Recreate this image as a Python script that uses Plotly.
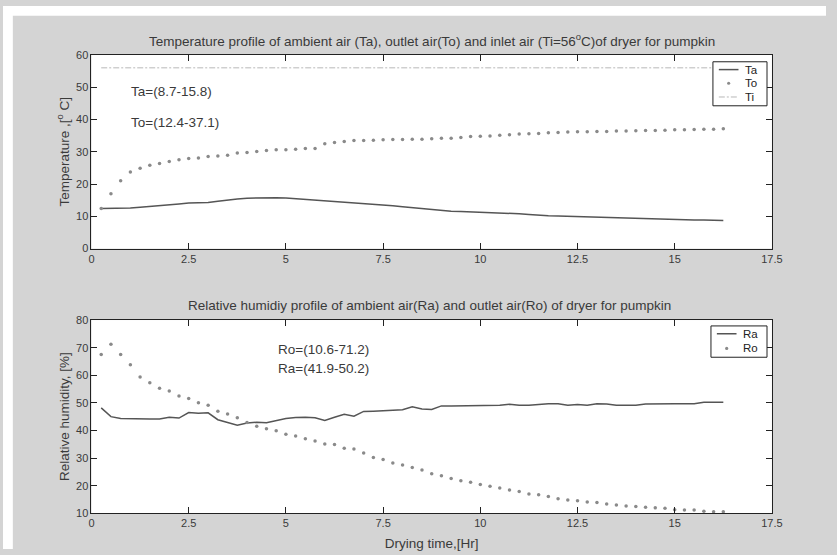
import plotly.graph_objects as go

# Drying time (hours), readings every 15 minutes
time_hr = [0.25, 0.5, 0.75, 1.0, 1.25, 1.5, 1.75, 2.0, 2.25, 2.5, 2.75, 3.0, 3.25,
           3.5, 3.75, 4.0, 4.25, 4.5, 4.75, 5.0, 5.25, 5.5, 5.75, 6.0, 6.25, 6.5,
           6.75, 7.0, 7.25, 7.5, 7.75, 8.0, 8.25, 8.5, 8.75, 9.0, 9.25, 9.5, 9.75,
           10.0, 10.25, 10.5, 10.75, 11.0, 11.25, 11.5, 11.75, 12.0, 12.25, 12.5,
           12.75, 13.0, 13.25, 13.5, 13.75, 14.0, 14.25, 14.5, 14.75, 15.0, 15.25,
           15.5, 15.75, 16.0, 16.25]

# Ambient air temperature Ta (deg C)
ta = [12.4, 12.4, 12.5, 12.6, 12.8, 13.0, 13.3, 13.6, 13.8, 14.1, 14.2, 14.3, 14.7,
      15.1, 15.4, 15.6, 15.7, 15.8, 15.8, 15.7, 15.5, 15.3, 15.1, 14.9, 14.7, 14.4,
      14.2, 14.0, 13.8, 13.6, 13.3, 13.0, 12.7, 12.4, 12.2, 11.9, 11.6, 11.5, 11.4,
      11.3, 11.2, 11.2, 11.0, 10.8, 10.6, 10.3, 10.2, 10.1, 10.0, 9.9,
      9.8, 9.7, 9.6, 9.6, 9.5, 9.4, 9.3, 9.2, 9.1, 9.0, 9.0,
      8.9, 8.9, 8.8, 8.7]

# Outlet air temperature To (deg C)
to = [12.4, 17.0, 21.0, 23.7, 24.9, 25.8, 26.4, 27.0, 27.5, 27.9, 28.1, 28.5, 28.7,
      28.9, 29.6, 29.8, 30.1, 30.4, 30.6, 30.6, 30.8, 31.0, 31.0, 32.5, 32.9, 33.2,
      33.5, 33.5, 33.6, 33.7, 33.8, 33.8, 33.9, 33.9, 34.0, 34.2, 34.2, 34.4, 34.7,
      34.8, 34.9, 35.1, 35.3, 35.5, 35.6, 35.7, 35.9, 36.0, 36.1, 36.2,
      36.2, 36.3, 36.3, 36.4, 36.4, 36.5, 36.6, 36.6, 36.7, 36.8, 36.8,
      36.9, 37.0, 37.0, 37.1]

# Inlet air temperature Ti (deg C), held constant
ti_time = [0.25, 16.25]
ti = [56.0, 56.0]

# Ambient air relative humidity Ra (%)
ra = [48.2, 45.0, 44.3, 44.2, 44.2, 44.2, 44.2, 44.8, 44.5, 46.5, 46.2, 46.4, 43.9,
      42.8, 41.9, 42.7, 43.0, 42.8, 43.5, 44.3, 44.7, 44.8, 44.6, 43.6, 44.8, 45.9,
      45.2, 46.9, 47.0, 47.1, 47.3, 47.5, 48.6, 47.8, 47.6, 48.9, 48.9, 48.9, 49.0,
      49.0, 49.1, 49.1, 49.5, 49.1, 49.1, 49.5, 49.7, 49.7, 49.1, 49.4,
      49.1, 49.7, 49.6, 49.1, 49.1, 49.1, 49.6, 49.7, 49.7, 49.7, 49.7,
      49.7, 50.2, 50.2, 50.2]

# Outlet air relative humidity Ro (%)
ro = [67.5, 71.2, 67.5, 63.8, 59.4, 57.3, 55.3, 54.3, 52.5, 51.6, 50.0, 49.1, 47.0,
      46.0, 44.6, 42.9, 41.5, 40.6, 39.9, 38.6, 38.0, 37.0, 36.2, 35.1, 34.9, 33.6,
      33.3, 31.8, 30.2, 29.5, 28.2, 27.5, 26.6, 25.7, 24.3, 23.6, 22.6, 21.8, 21.2,
      20.4, 19.8, 19.2, 18.4, 17.9, 17.0, 16.7, 16.1, 15.3, 14.8, 14.5,
      14.1, 13.9, 13.4, 13.0, 12.6, 12.5, 12.2, 12.0, 11.8, 11.3, 11.2,
      11.2, 10.7, 10.6, 10.6]

x_ticks = [0, 2.5, 5, 7.5, 10, 12.5, 15, 17.5]
x_tick_text = ["0", "2.5", "5", "7.5", "10", "12.5", "15", "17.5"]

FONT = "Liberation Sans, Arial, sans-serif"
TXT = "#3a3a3a"
FRAME = "#222222"
LINE = "#555555"
DOT = "#8a8a8a"
TI_COLOR = "#b8b8b8"
TI_DASH = "6px,2px,2px,2px"
FIG_BG = "#d4d4d4"

W, H = 837, 555


def px(x):
    return x / W


def py(y):
    return 1 - y / H


fig = go.Figure()

fig.add_trace(go.Scatter(x=time_hr, y=ta, mode="lines", name="Ta",
                         line=dict(color=LINE, width=1.5), xaxis="x", yaxis="y"))
fig.add_trace(go.Scatter(x=time_hr, y=to, mode="markers", name="To",
                         marker=dict(color=DOT, size=3.5), xaxis="x", yaxis="y"))
fig.add_trace(go.Scatter(x=ti_time, y=ti, mode="lines", name="Ti",
                         line=dict(color=TI_COLOR, width=1, dash=TI_DASH),
                         xaxis="x", yaxis="y"))
fig.add_trace(go.Scatter(x=time_hr, y=ra, mode="lines", name="Ra",
                         line=dict(color=LINE, width=1.5), xaxis="x2", yaxis="y2"))
fig.add_trace(go.Scatter(x=time_hr, y=ro, mode="markers", name="Ro",
                         marker=dict(color=DOT, size=3.5), xaxis="x2", yaxis="y2"))

x_dom = [px(90), px(782)]
top_dom = [py(248), py(50)]
bot_dom = [py(518.5), py(321)]

axis_common = dict(
    showline=True, linecolor=FRAME, linewidth=1, mirror="ticks",
    ticks="inside", ticklen=6, tickcolor=FRAME, tickwidth=1,
    showgrid=False, zeroline=False,
    tickfont=dict(family=FONT, size=11, color=TXT),
)
title_font = dict(family=FONT, size=13.5, color=TXT)

shapes = [
    # white strips along the top and left edges of the page
    dict(type="rect", xref="paper", yref="paper", x0=0, x1=1, y0=py(10), y1=1,
         fillcolor="white", line=dict(width=0), layer="below"),
    dict(type="rect", xref="paper", yref="paper", x0=0, x1=px(10), y0=0, y1=1,
         fillcolor="white", line=dict(width=0), layer="below"),
]
annotations = [
    dict(text="Temperature profile of ambient air (Ta), outlet air(To) and inlet air "
              "(Ti=56<sup>o</sup>C)of dryer for pumpkin",
         xref="paper", yref="paper", x=px(436), y=py(35), yanchor="middle",
         showarrow=False, font=title_font),
    dict(text="Relative humidiy profile of ambient air(Ra) and outlet air(Ro) of dryer for pumpkin",
         xref="paper", yref="paper", x=px(434), y=py(306), yanchor="middle",
         showarrow=False, font=title_font),
    dict(text="Ta=(8.7-15.8)", xref="x", yref="y", x=0.97, y=48.8, xanchor="left",
         yanchor="middle", showarrow=False, font=title_font),
    dict(text="To=(12.4-37.1)", xref="x", yref="y", x=0.97, y=39.0, xanchor="left",
         yanchor="middle", showarrow=False, font=title_font),
    dict(text="Ro=(10.6-71.2)", xref="x2", yref="y2", x=4.75, y=69.3, xanchor="left",
         yanchor="middle", showarrow=False, font=title_font),
    dict(text="Ra=(41.9-50.2)", xref="x2", yref="y2", x=4.75, y=62.5, xanchor="left",
         yanchor="middle", showarrow=False, font=title_font),
]


def add_legend(box, entries):
    """Boxed legend: box=(x0, y0, x1, y1) in pixels; entries=(name, kind, y)."""
    x0, y0, x1, y1 = box
    shapes.append(dict(type="rect", xref="paper", yref="paper",
                       x0=px(x0), x1=px(x1), y0=py(y1), y1=py(y0),
                       fillcolor="white", line=dict(color=FRAME, width=1)))
    for name, kind, y in entries:
        if kind == "line":
            shapes.append(dict(type="line", xref="paper", yref="paper",
                               x0=px(x0 + 6), x1=px(x0 + 26), y0=py(y), y1=py(y),
                               line=dict(color=LINE, width=1.5)))
        elif kind == "dashdot":
            shapes.append(dict(type="line", xref="paper", yref="paper",
                               x0=px(x0 + 6), x1=px(x0 + 26), y0=py(y), y1=py(y),
                               line=dict(color=TI_COLOR, width=1, dash=TI_DASH)))
        else:
            cx = x0 + 16
            shapes.append(dict(type="circle", xref="paper", yref="paper",
                               x0=px(cx - 1.6), x1=px(cx + 1.6),
                               y0=py(y + 1.6), y1=py(y - 1.6),
                               fillcolor=DOT, line=dict(width=0)))
        annotations.append(dict(text=name, xref="paper", yref="paper",
                                x=px(x0 + 31), y=py(y), xanchor="left", yanchor="middle",
                                showarrow=False,
                                font=dict(family=FONT, size=11.5, color=FRAME)))


add_legend((722, 57, 777, 102), [("Ta", "line", 65), ("To", "dot", 79), ("Ti", "dashdot", 93)])
add_legend((720, 327, 777, 359), [("Ra", "line", 335), ("Ro", "dot", 350)])

fig.update_layout(
    width=W, height=H,
    margin=dict(l=0, r=0, t=0, b=0),
    paper_bgcolor=FIG_BG,
    plot_bgcolor="white",
    showlegend=False,
    font=dict(family=FONT, color=TXT),
    xaxis=dict(domain=x_dom, range=[0, 17.5], tickvals=x_ticks, ticktext=x_tick_text,
               anchor="y", **axis_common),
    yaxis=dict(domain=top_dom, range=[0, 60], dtick=10, anchor="x",
               title=dict(text="Temperature ,[<sup>o</sup> C]", standoff=3, font=title_font),
               **axis_common),
    xaxis2=dict(domain=x_dom, range=[0, 17.5], tickvals=x_ticks, ticktext=x_tick_text,
                anchor="y2",
                title=dict(text="Drying time,[Hr]", standoff=10, font=title_font),
                **axis_common),
    yaxis2=dict(domain=bot_dom, range=[10, 80], dtick=10, anchor="x2",
                title=dict(text="Relative humidity, [%]", standoff=3, font=title_font),
                **axis_common),
    shapes=shapes,
    annotations=annotations,
)

fig.write_html("out.html")
